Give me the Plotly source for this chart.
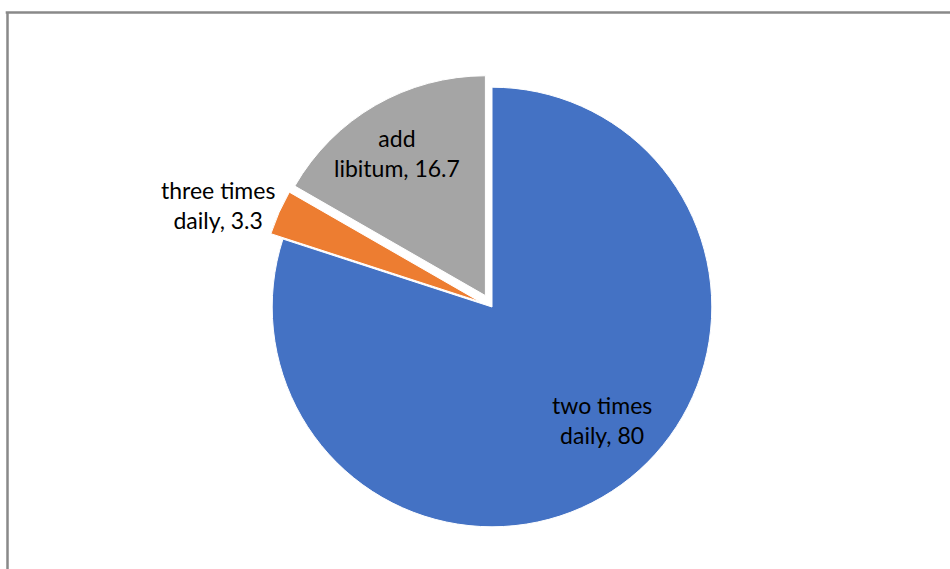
import plotly.graph_objects as go

labels = ["two times daily", "three times daily", "add libitum"]
values = [80, 3.3, 16.7]
colors = ["#4472C4", "#ED7D31", "#A5A5A5"]
pulls = [0.0, 0.06, 0.06]

# label line breaks and label centre positions (page pixels)
label_lines = [["two times", "daily, "], ["three times", "daily, "], ["add", "libitum, "]]
label_pos_px = [(602, 420), (218, 205), (397, 153)]

W, H = 950, 569
ml, mr, mt, mb = 42, 8, 74, 29
pw, ph = W - ml - mr, H - mt - mb

fig = go.Figure(go.Pie(
    labels=labels, values=values, sort=False, direction="clockwise", rotation=0,
    marker=dict(colors=colors, line=dict(color="white", width=1)),
    pull=pulls, textinfo="none", hoverinfo="label+value", showlegend=False,
))

def px2paper(x, y):
    return (x - ml) / pw, 1 - (y - mt) / ph

annotations = []
for lines, v, (x, y) in zip(label_lines, values, label_pos_px):
    fx, fy = px2paper(x, y)
    txt = lines[0] + "<br>" + lines[1] + f"{v:g}"
    annotations.append(dict(x=fx, y=fy, xref="paper", yref="paper", text=txt,
                            showarrow=False, align="center", xanchor="center", yanchor="middle",
                            font=dict(family="Lato", size=23, color="#000")))

lx, ty = px2paper(7.5, 12.5)
rx, by = px2paper(960, 580)
line_style = dict(color="#898989", width=2.5)
fig.update_layout(
    width=W, height=H, margin=dict(l=ml, r=mr, t=mt, b=mb),
    paper_bgcolor="white", plot_bgcolor="white",
    annotations=annotations,
    shapes=[
        dict(type="line", xref="paper", yref="paper", x0=lx - 0.002, y0=ty, x1=rx, y1=ty, line=line_style, layer="below"),
        dict(type="line", xref="paper", yref="paper", x0=lx, y0=ty, x1=lx, y1=by, line=line_style, layer="below"),
    ],
)
fig.write_html("out.html", config={"displayModeBar": False},
               post_script="document.body.style.margin='0';document.body.style.overflow='hidden';")
